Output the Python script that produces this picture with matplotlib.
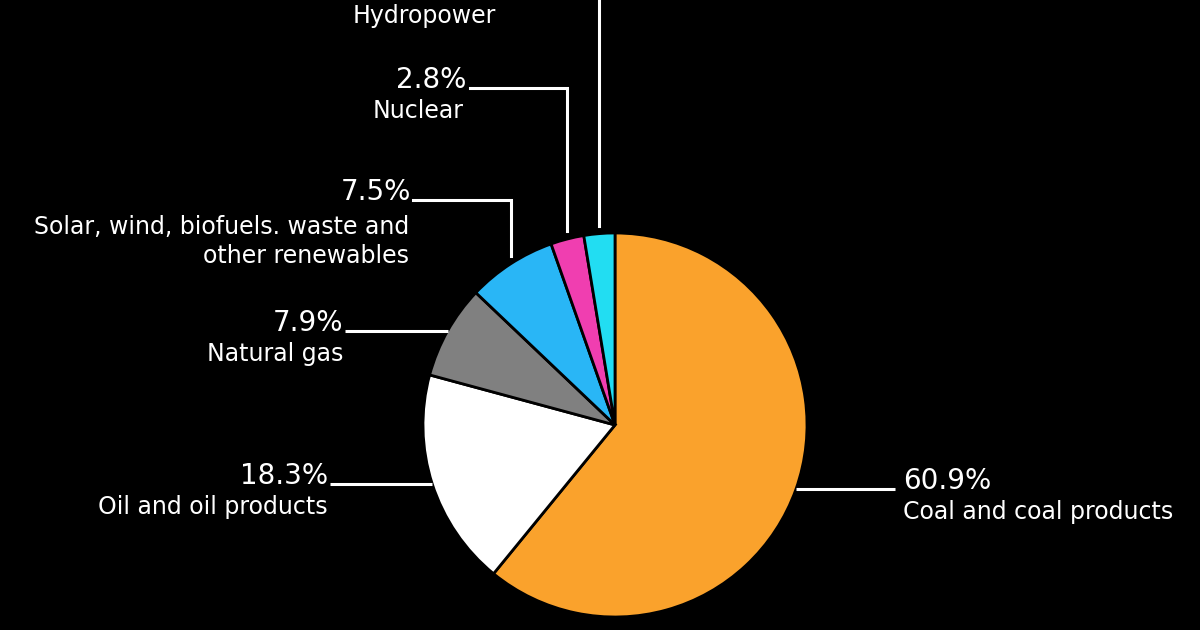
import numpy as np
import matplotlib
matplotlib.use("Agg")
import matplotlib.pyplot as plt

# energy mix shares, clockwise from 12 o'clock
labels = ["Coal and coal products", "Oil and oil products", "Natural gas",
          "Solar, wind, biofuels. waste and\nother renewables", "Nuclear", "Hydropower"]
shares = [60.9, 18.3, 7.9, 7.5, 2.8, 2.6]
colors = ["#faa22c", "#ffffff", "#808080", "#29b6f6", "#f03eb0", "#22ddf2"]

W, H = 1200, 630
cx, cy, r = 615, H - 425, 192

fig = plt.figure(figsize=(12, 6.3), dpi=100, facecolor="black")
ax = fig.add_axes([0, 0, 1, 1])
ax.set_facecolor("black")

wedges, _ = ax.pie(shares, colors=colors, startangle=90, counterclock=False,
                   center=(cx, cy), radius=r, frame=True,
                   wedgeprops=dict(edgecolor="black", linewidth=2))
ax.set_xlim(0, W)
ax.set_ylim(0, H)
ax.set_aspect("equal")
ax.axis("off")

plt.rcParams["font.family"] = ["DejaVu Sans"]
pct_size, lab_size = 20, 17
lw = 2.2

def anchor(w):
    a = np.deg2rad((w.theta1 + w.theta2) / 2)
    return cx + r * np.cos(a), cy + r * np.sin(a)

# horizontal leaders: (line end x, text x, pct baseline y, label baseline y, side)
horiz = {0: (895, 903, 489, 519, "left"),
         1: (330, 328, 484, 514, "right"),
         2: (345, 343, 331, 361, "right")}
for i, (xe, tx, py, ly, ha) in horiz.items():
    ax0, ay0 = anchor(wedges[i])
    ax.plot([ax0, xe], [ay0, ay0], color="white", lw=lw, solid_capstyle="butt")
    ax.text(tx, H - py, f"{shares[i]}%", color="white", fontsize=pct_size,
            ha=ha, va="baseline")
    ax.text(tx, H - ly, labels[i], color="white", fontsize=lab_size,
            ha=ha, va="baseline")

# elbow leaders going up: (elbow y, line end x, text x, last label baseline y)
elbow = {3: (200, 413, 411, 263),
         4: (88, 470, 466, 118),
         5: (-10, 505, 498, 23)}
for i, (ye, xe, tx, ly) in elbow.items():
    ax0, ay0 = anchor(wedges[i])
    ax.plot([ax0, ax0, xe], [ay0 + 8, H - ye, H - ye], color="white", lw=lw,
            solid_joinstyle="miter", clip_on=False)
    ax.text(tx, H - ye, f"{shares[i]}%", color="white", fontsize=pct_size,
            ha="right", va="baseline")
    ax.text(tx - 2, H - ly, labels[i], color="white", fontsize=lab_size,
            ha="right", va="baseline", multialignment="right", linespacing=1.25)

fig.savefig("out.png", dpi=100, facecolor="black")
